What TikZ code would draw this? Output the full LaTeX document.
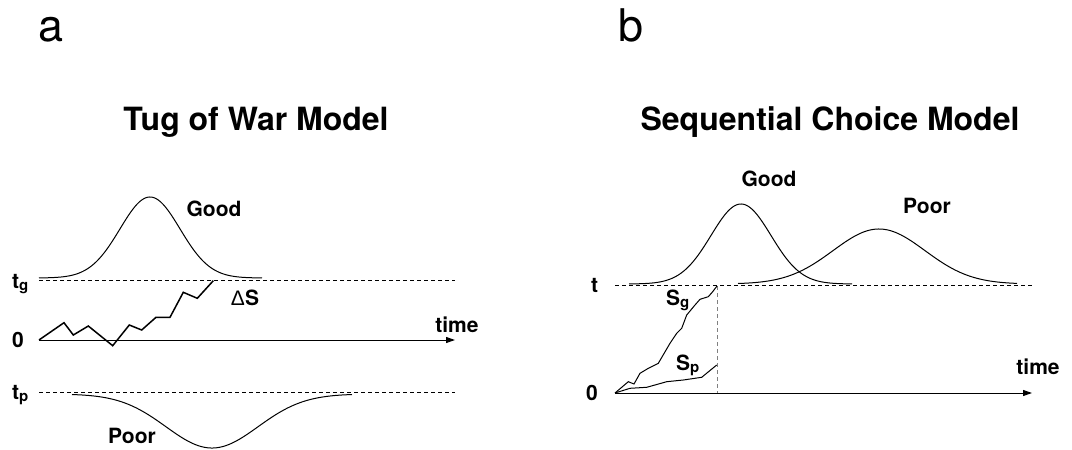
\documentclass[tikz,border=0pt]{standalone}
\usepackage{fontspec}
\setmainfont{TeX Gyre Heros}
\newfontfamily\libsans{Liberation Sans}
\usetikzlibrary{arrows.meta}
\newcommand\lowsub[1]{\raisebox{-2.5pt}{\fontsize{15}{17}\selectfont #1}}
\begin{document}
\begin{tikzpicture}[x=1pt,y=-1pt,
  lbl/.style={inner sep=0pt, font=\fontsize{21}{25}\selectfont\bfseries},
  ttl/.style={inner sep=0pt, anchor=base, font=\fontsize{32}{38}\selectfont\bfseries},
  panel/.style={inner sep=0pt, anchor=base west, font=\fontsize{45}{54}\selectfont},
  curve/.style={line width=1pt},
  walk/.style={line width=1.5pt, line join=miter},
  thr/.style={dash pattern=on 4pt off 3pt, line width=0.9pt},
  vthr/.style={dash pattern=on 4pt off 3pt, line width=0.9pt, draw=gray},
  axis/.style={line width=1pt, -{Triangle[length=9pt,width=6pt]}},
]
\useasboundingbox (0,0) rectangle (1072,450);

% panel labels and titles
\node[panel] (pa) at (38,41) {a};
\node[panel] (pb) at (618,41) {b};
\node[ttl] (ta) at (256,130) {Tug of War Model};
\node[ttl] (tb) at (830,130) {Sequential Choice Model};

% ---------- panel a ----------
\coordinate (a0) at (39,340);
\coordinate (aend) at (455,340);
\coordinate (tgL) at (39,280);
\coordinate (tgR) at (455,280);
\coordinate (tpL) at (39,392);
\coordinate (tpR) at (455,392);

\draw[curve] plot[domain=39:262, samples=150] (\x,{278-81*exp(-0.5*((\x-150)/30)^2)});
\draw[curve] plot[domain=72:352, samples=150] (\x,{394+54*exp(-0.5*((\x-212)/46)^2)});
\draw[thr] (tgL) -- (tgR);
\draw[thr] (tpL) -- (tpR);
\draw[axis] (a0) -- (aend);
\draw[walk] (a0) -- (64,322.7) -- (73.3,335) -- (88.3,326) -- (112.7,345.7)
  -- (129.3,325) -- (141.7,330) -- (156,317.3) -- (170,317.3) -- (183.3,292.3)
  -- (197.3,298.3) -- (213.3,280.7);

\node[lbl, anchor=base] (goodA) at (214,216) {Good};
\node[lbl, anchor=base] (poorA) at (132,443) {Poor};
\node[lbl, anchor=base west] (tgA) at (12,288) {t\lowsub{g}};
\node[lbl, anchor=base west] (zeroA) at (12,347) {0};
\node[lbl, anchor=base west] (tpA) at (12,399) {t\lowsub{p}};
\node[lbl, anchor=base] (timeA) at (457,332) {time};
\node[lbl, anchor=base] (dS) at (245,305) {{\libsans\mdseries Δ}S};

% ---------- panel b ----------
\coordinate (b0) at (615,393);
\coordinate (bend) at (1032,393);
\coordinate (tL) at (615,285);
\coordinate (tR) at (1032,285);
\coordinate (vTop) at (717,286);
\coordinate (vBot) at (717,393);

\draw[curve] plot[domain=629:852, samples=150] (\x,{284-80*exp(-0.5*((\x-741)/30)^2)});
\draw[curve] plot[domain=738:1017, samples=150] (\x,{284-55*exp(-0.5*((\x-879)/46)^2)});
\draw[thr] (tL) -- (tR);
\draw[vthr] (vTop) -- (vBot);
\draw[axis] (b0) -- (bend);
\draw[curve] (b0) -- (628.3,381.7) -- (634,384) -- (640,373.3) -- (648.3,368.3)
  -- (658.3,363.3) -- (670,343.3) -- (676.7,333.3) -- (681.7,328.3) -- (686.7,315)
  -- (695,305) -- (700,299.3) -- (708.3,296.7) -- (712.7,291.7) -- (vTop);
\draw[curve] (b0) -- (630,388.3) -- (646.7,387.3) -- (666.7,381.7) -- (683.3,380)
  -- (701.7,377.3) -- (716.7,365);

\node[lbl, anchor=base] (goodB) at (769,186) {Good};
\node[lbl, anchor=base] (poorB) at (927,213) {Poor};
\node[lbl, anchor=base west] (tB) at (591,292) {t};
\node[lbl, anchor=base west] (zeroB) at (586,400) {0};
\node[lbl, anchor=base] (timeB) at (1038,374) {time};
\node[lbl, anchor=base west] (sg) at (666,305) {S\lowsub{g}};
\node[lbl, anchor=base west] (sp) at (676,370) {S\lowsub{p}};
\end{tikzpicture}
\end{document}
